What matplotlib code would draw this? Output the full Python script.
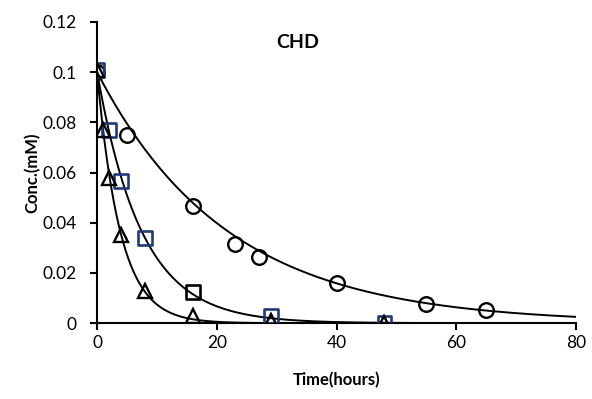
import numpy as np
import matplotlib.pyplot as plt

plt.rcParams['font.family'] = ['Lato', 'DejaVu Sans']

# measured points
t_circle = [0, 5, 16, 23, 27, 40, 55, 65]
c_circle = [0.100, 0.075, 0.0465, 0.0315, 0.0265, 0.016, 0.0078, 0.0053]

t_square = [0, 2, 4, 8, 16, 29, 48]
c_square = [0.101, 0.077, 0.0565, 0.034, 0.0125, 0.003, 0.0002]

t_tri = [0, 1, 2, 4, 8, 16, 29, 48]
c_tri = [0.101, 0.077, 0.058, 0.035, 0.013, 0.003, 0.001, 0.0]

# fitted first-order rate constants (1/h), C0 = 0.1
c0 = 0.1
k_circle = 0.046
k_square = 0.135
k_tri = 0.26

xticks = [0, 20, 40, 60, 80]
yticks = [0, 0.02, 0.04, 0.06, 0.08, 0.1, 0.12]
ylabels = ['0', '0.02', '0.04', '0.06', '0.08', '0.1', '0.12']

navy = '#1f3a78'

fig = plt.figure(figsize=(5.92, 3.99), dpi=100)
ax = fig.add_axes([0.164, 0.19, 0.809, 0.755])

tt = np.linspace(0, 80, 400)
for k in (k_circle, k_square, k_tri):
    ax.plot(tt, c0 * np.exp(-k * tt), color='black', lw=1.4, zorder=2)

ax.plot(t_circle, c_circle, 'o', ms=10.5, mfc='none', mec='black', mew=1.7, zorder=3)
sq_edges = [navy, navy, navy, navy, 'black', navy, navy]
ax.scatter(t_square, c_square, marker='s', s=100, facecolors='none',
           edgecolors=sq_edges, linewidths=1.9, zorder=3)
ax.plot(t_tri, c_tri, '^', ms=10, mfc='none', mec='black', mew=1.7, zorder=4)

ax.set_xlim(0, 80)
ax.set_ylim(0, 0.12)
ax.set_xticks(xticks)
ax.set_yticks(yticks)
ax.set_yticklabels(ylabels)
ax.spines['top'].set_visible(False)
ax.spines['right'].set_visible(False)
ax.spines['left'].set_linewidth(1.5)
ax.spines['bottom'].set_linewidth(1.5)
ax.tick_params(direction='out', length=5, width=1.5, labelsize=12.5)
ax.tick_params(axis='y', pad=10)
ax.set_xlabel('Time(hours)', fontsize=12, fontweight='bold', labelpad=15)
ax.set_ylabel('Conc.(mM)', fontsize=12, fontweight='bold', labelpad=1)
ax.text(33.5, 0.112, 'CHD', fontsize=14, fontweight='bold', ha='center', va='center')
for s in ax.spines.values():
    s.set_clip_on(False)

fig.savefig('out.png', dpi=100)
